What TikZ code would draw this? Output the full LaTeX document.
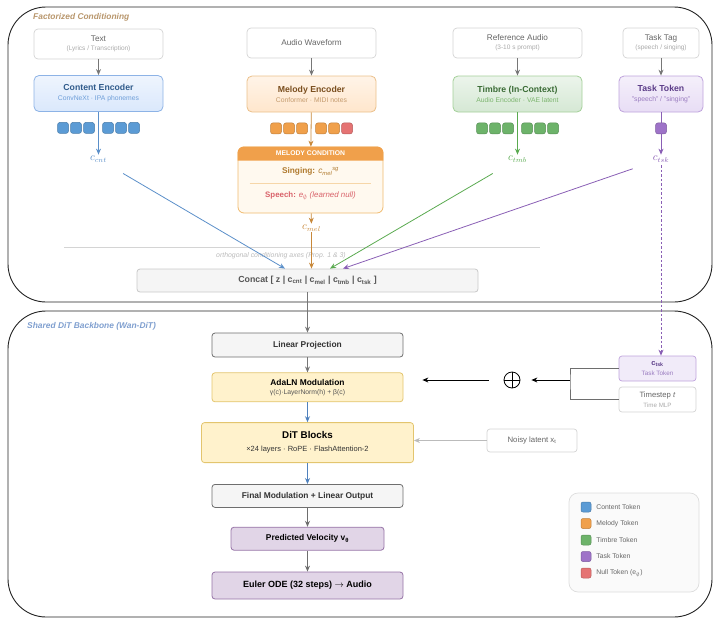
\documentclass[tikz,border=0pt]{standalone}
\usepackage{fontspec}
\usepackage{amsmath,amssymb}
\setmainfont{Liberation Sans}
\usetikzlibrary{arrows.meta,positioning,calc}
\definecolor{panelLine}{HTML}{222222}
\definecolor{inLine}{HTML}{D4D4D4}
\definecolor{inText}{HTML}{666666}
\definecolor{inSub}{HTML}{AAAAAA}
\definecolor{cntFill}{HTML}{DAE8FC}
\definecolor{cntDraw}{HTML}{8DB3E6}
\definecolor{cntTitle}{HTML}{2F5A8A}
\definecolor{cntSub}{HTML}{6F9FD8}
\definecolor{cntTok}{HTML}{5B9BD5}
\definecolor{cntArr}{HTML}{5B8FC9}
\definecolor{melFill}{HTML}{FFE6CC}
\definecolor{melDraw}{HTML}{EBC08A}
\definecolor{melTitle}{HTML}{7A4E1E}
\definecolor{melSub}{HTML}{C49A6C}
\definecolor{melTok}{HTML}{F0A04B}
\definecolor{melArr}{HTML}{C8883A}
\definecolor{nullTok}{HTML}{E57373}
\definecolor{tmbFill}{HTML}{D5E8D4}
\definecolor{tmbDraw}{HTML}{A3D098}
\definecolor{tmbTitle}{HTML}{3A6B35}
\definecolor{tmbSub}{HTML}{7DB56F}
\definecolor{tmbTok}{HTML}{6DB36A}
\definecolor{tmbArr}{HTML}{5AAA50}
\definecolor{tskFill}{HTML}{E8DDF5}
\definecolor{tskDraw}{HTML}{BFA3DC}
\definecolor{tskTitle}{HTML}{5B3C88}
\definecolor{tskSub}{HTML}{9A7CC0}
\definecolor{tskTok}{HTML}{9E73C8}
\definecolor{tskArr}{HTML}{8A5FB5}
\definecolor{condHead}{HTML}{F0A04B}
\definecolor{condFill}{HTML}{FFF9EF}
\definecolor{condDraw}{HTML}{F0BA6E}
\definecolor{singText}{HTML}{B07A2E}
\definecolor{speechText}{HTML}{D9626A}
\definecolor{boxGray}{HTML}{F5F5F5}
\definecolor{concatLine}{HTML}{C8C8C8}
\definecolor{concatText}{HTML}{555555}
\definecolor{procLine}{HTML}{6E6E6E}
\definecolor{procText}{HTML}{333333}
\definecolor{adaFill}{HTML}{FFF2CC}
\definecolor{adaDraw}{HTML}{E3C56E}
\definecolor{velFill}{HTML}{E1D5E7}
\definecolor{velDraw}{HTML}{9673A6}
\definecolor{arrGray}{HTML}{777777}
\definecolor{arrBlue}{HTML}{4F81BD}
\definecolor{condTitle}{HTML}{B8966C}
\definecolor{backTitle}{HTML}{7F9FCF}
\definecolor{noteGray}{HTML}{BBBBBB}
\definecolor{legFill}{HTML}{FAFAFA}
\definecolor{legLine}{HTML}{DDDDDD}
\tikzset{
  panel/.style={draw=panelLine, line width=0.9pt, rounded corners=38pt, minimum width=704pt},
  paneltitle/.style={anchor=west, inner sep=0pt, font=\fontsize{8.4}{10}\selectfont\bfseries\itshape},
  inbox/.style={rectangle, rounded corners=4pt, draw=inLine, fill=white, line width=0.7pt,
                minimum width=129pt, minimum height=30pt, align=center, text=inText,
                font=\fontsize{8.2}{10}\selectfont},
  encbox/.style={rectangle, rounded corners=5pt, line width=0.8pt, minimum width=129pt,
                 minimum height=36pt, align=center, font=\fontsize{8.7}{11}\selectfont\bfseries},
  tok/.style={rectangle, rounded corners=2.5pt, minimum size=11pt, inner sep=0pt, line width=0.5pt},
  clabel/.style={inner sep=1pt, font=\fontsize{10.5}{12}\selectfont},
  colarrow/.style={-{Stealth[length=6pt,width=5pt]}, line width=0.8pt},
  garrow/.style={-{Stealth[length=6pt,width=5pt]}, line width=0.9pt, draw=arrGray},
  procbox/.style={rectangle, rounded corners=3pt, draw=procLine, fill=boxGray, line width=0.8pt,
                  minimum width=191pt, minimum height=24pt, align=center, text=procText,
                  font=\fontsize{8.4}{10}\selectfont\bfseries},
  adabox/.style={procbox, draw=adaDraw, fill=adaFill, text=black},
  velbox/.style={procbox, draw=velDraw, fill=velFill, text=black},
  sidebox/.style={rectangle, rounded corners=3pt, draw=inLine, fill=white, line width=0.7pt,
                  minimum width=77pt, minimum height=25pt, align=center},
  legsq/.style={rectangle, rounded corners=2pt, minimum size=10pt, inner sep=0pt, line width=0.5pt},
  leglab/.style={anchor=west, inner sep=0pt, text=inText, font=\fontsize{6.8}{8}\selectfont}
}

\begin{document}
\begin{tikzpicture}[x=1pt, y=-1pt]
\useasboundingbox (0,0) rectangle (721,622);

% the two panels
\node[panel, minimum height=295pt] (condpanel) at (360,154.5) {};
\node[panel, minimum height=306pt] (backpanel) at (360,464) {};
\node[paneltitle, text=condTitle] (condtitle) at (33,17) {Factorized Conditioning};
\node[paneltitle, text=backTitle] (backtitle) at (27,326) {Shared DiT Backbone (Wan-DiT)};

% inputs
\node[inbox] (text) at (98.5,44) {Text\\[-1pt]{\fontsize{6.5}{8}\selectfont\color{inSub}(Lyrics / Transcription)}};
\node[inbox] (wave) at (311.5,43) {Audio Waveform};
\node[inbox] (refaud) at (517.5,43) {Reference Audio\\[-1pt]{\fontsize{6.5}{8}\selectfont\color{inSub}(3-10 s prompt)}};
\node[inbox, minimum width=76pt] (tasktag) at (661,43) {Task Tag\\[-1pt]{\fontsize{6.5}{8}\selectfont\color{inSub}(speech / singing)}};

% encoders
\node[encbox, draw=cntDraw, top color=cntFill!45!white, bottom color=cntFill, text=cntTitle] (cntenc) at (98.5,93.5)
  {Content Encoder\\[-1pt]{\fontsize{6.8}{8}\selectfont\mdseries\color{cntSub}ConvNeXt · IPA phonemes}};
\node[encbox, draw=melDraw, top color=melFill!45!white, bottom color=melFill, text=melTitle] (melenc) at (311.5,94)
  {Melody Encoder\\[-1pt]{\fontsize{6.8}{8}\selectfont\mdseries\color{melSub}Conformer · MIDI notes}};
\node[encbox, draw=tmbDraw, top color=tmbFill!45!white, bottom color=tmbFill, text=tmbTitle] (tmbenc) at (517.5,94)
  {Timbre (In-Context)\\[-1pt]{\fontsize{6.8}{8}\selectfont\mdseries\color{tmbSub}Audio Encoder · VAE latent}};
\node[encbox, minimum width=84pt, draw=tskDraw, top color=tskFill!45!white, bottom color=tskFill, text=tskTitle] (tskenc) at (661,94)
  {Task Token\\[-1pt]{\fontsize{6.8}{8}\selectfont\mdseries\color{tskSub}"speech" / "singing"}};

\draw[garrow] (text) -- (cntenc);
\draw[garrow] (wave) -- (melenc);
\draw[garrow] (refaud) -- (tmbenc);
\draw[garrow] (tasktag) -- (tskenc);

% condition labels
\node[clabel, text=cntArr] (ccnt) at (98.5,159) {$c_{cnt}$};
\node[clabel, text=tmbArr] (ctmb) at (517.5,159) {$c_{tmb}$};
\node[clabel, text=tskArr] (ctsk) at (661,159) {$c_{tsk}$};
\node[clabel, text=melArr] (cmel) at (311.5,228) {$c_{mel}$};

% melody condition
\node[rectangle, rounded corners=6pt, draw=condDraw, fill=condFill, line width=0.8pt,
      minimum width=145pt, minimum height=66pt] (melcond) at (310.5,180) {};
\fill[condHead] ([yshift=-14pt]melcond.north west) [rounded corners=6pt] -- (melcond.north west)
  -- (melcond.north east) [sharp corners] -- ([yshift=-14pt]melcond.north east) -- cycle;
\node[text=white, font=\fontsize{6.8}{8}\selectfont\bfseries] (mchead) at ([yshift=-7pt]melcond.north) {MELODY CONDITION};
\node[text=singText, font=\fontsize{8.3}{10}\selectfont\bfseries] (msing) at ([yshift=-25pt]melcond.north)
  {Singing: {\mdseries\itshape c}\textsubscript{\mdseries\itshape mel}\textsuperscript{\mdseries\itshape sg}};
\draw[condDraw!60, line width=0.6pt] ([xshift=12pt,yshift=-37pt]melcond.north west) -- ([xshift=-12pt,yshift=-37pt]melcond.north east);
\node[text=speechText, font=\fontsize{7.9}{9}\selectfont] (mspeech) at ([yshift=-49pt]melcond.north)
  {\textbf{Speech:} \textit{e}\textsubscript{$\emptyset$} \textit{(learned null)}};

% encoder to label arrows
\draw[colarrow, draw=cntArr] (cntenc) -- (ccnt);
\draw[colarrow, draw=melArr] (melenc) -- (melcond);
\draw[colarrow, draw=melArr] (melcond) -- (cmel);
\draw[colarrow, draw=tmbArr] (tmbenc) -- (ctmb);
\draw[colarrow, draw=tskArr] (tskenc) -- (ctsk);

% tokens
\foreach \dx [count=\i] in {-35.5,-22.5,-9.5,9.5,22.5,35.5}{
  \node[tok, fill=cntTok, draw=cntTok!80!black] (cnttok\i) at ($(cntenc.south)+(\dx,16)$) {};
  \node[tok, fill=tmbTok, draw=tmbTok!80!black] (tmbtok\i) at ($(tmbenc.south)+(\dx,16)$) {};
}
\foreach \dx/\col [count=\i] in {-35.5/melTok,-22.5/melTok,-9.5/melTok,9.5/melTok,22.5/melTok,35.5/nullTok}{
  \node[tok, fill=\col, draw=\col!80!black] (meltok\i) at ($(melenc.south)+(\dx,16)$) {};
}
\node[tok, fill=tskTok, draw=tskTok!80!black] (tsktok) at ($(tskenc.south)+(0,16)$) {};

% axes note
\draw[inLine, line width=0.7pt] (64,247) -- (540,247);
\node[text=noteGray, font=\fontsize{6.9}{8}\selectfont\itshape] (axesnote) at (281,256) {orthogonal conditioning axes (Prop. 1 \& 3)};

% concat
\node[rectangle, rounded corners=3pt, draw=concatLine, fill=boxGray, line width=0.8pt, minimum width=341pt,
      minimum height=23pt, text=concatText, font=\fontsize{8.8}{10}\selectfont\bfseries] (concat) at (307.5,280.5)
  {Concat [ z | c\textsubscript{cnt} | c\textsubscript{mel} | c\textsubscript{tmb} | c\textsubscript{tsk} ]};

\draw[colarrow, draw=cntArr, shorten <=20pt] (ccnt) -- ([xshift=-22.5pt]concat.north);
\draw[colarrow, draw=melArr] (cmel) -- (cmel |- concat.north);
\draw[colarrow, draw=tmbArr, shorten <=20pt] (ctmb) -- ([xshift=22.5pt]concat.north);
\draw[colarrow, draw=tskArr, shorten <=20pt] (ctsk) -- ([xshift=35.5pt]concat.north);

% backbone
\node[procbox] (linproj) at (307.5,345) {Linear Projection};
\node[adabox, minimum height=29pt, below=15pt of linproj] (adaln)
  {AdaLN Modulation\\[-1pt]{\fontsize{6.8}{8}\selectfont\mdseries\color{concatText}γ(c)·LayerNorm(h) + β(c)}};
\node[adabox, minimum width=212pt, minimum height=40pt, below=20pt of adaln, font=\fontsize{9.8}{12}\selectfont\bfseries] (dit)
  {DiT Blocks\\[1pt]{\fontsize{7.5}{9}\selectfont\mdseries\color{procText}×24 layers · RoPE · FlashAttention-2}};
\node[procbox, minimum height=23pt, below=21pt of dit] (finalout) {Final Modulation + Linear Output};
\node[velbox, minimum width=153pt, minimum height=23pt, below=19pt of finalout] (velocity) {Predicted Velocity v\textsubscript{θ}};
\node[velbox, minimum height=27pt, below=21pt of velocity, font=\fontsize{9}{11}\selectfont\bfseries] (euler) {Euler ODE (32 steps) $\rightarrow$ Audio};

\draw[garrow] (concat) -- (linproj);
\draw[garrow] (linproj) -- (adaln);
\draw[garrow, draw=arrBlue] (adaln) -- (dit);
\draw[garrow, draw=arrBlue] (dit) -- (finalout);
\draw[garrow, draw=procLine] (finalout) -- (velocity);
\draw[garrow, draw=procLine] (velocity) -- (euler);

% conditioning side
\node[sidebox, draw=tskDraw, fill=tskFill!60!white] (tskbox) at (657.5,368.5)
  {{\fontsize{7.5}{9}\selectfont\bfseries\color{tskTitle}c\textsubscript{tsk}}\\[-2pt]{\fontsize{6.3}{7}\selectfont\color{tskSub}Task Token}};
\node[sidebox] (tstep) at (657.5,399.5)
  {{\fontsize{7.7}{9}\selectfont\color{inText}Timestep \textit{t}}\\[-2pt]{\fontsize{6.2}{7}\selectfont\color{inSub}Time MLP}};
\coordinate (join) at (570,380);
\node[circle, draw, line width=0.8pt, minimum size=16pt, inner sep=0pt,
      path picture={\draw[line width=0.8pt] (path picture bounding box.north) -- (path picture bounding box.south)
                    (path picture bounding box.west) -- (path picture bounding box.east);}] (oplus) at (512,380) {};
\draw[line width=0.9pt, draw=procLine] (tskbox.west) -| (join) |- (tstep.west);
\draw[-{Stealth[length=6pt,width=5pt]}, line width=0.9pt, shorten >=11pt] (join) -- (oplus.east);
\draw[-{Stealth[length=6pt,width=5pt]}, line width=0.9pt, shorten <=15pt, shorten >=19pt] (oplus.west) -- (oplus.west -| adaln.east);
\draw[colarrow, draw=tskArr, line width=0.8pt, dash pattern=on 2.5pt off 2pt, shorten <=2pt] (ctsk) -- (ctsk |- tskbox.north);

\node[sidebox, minimum width=90pt, minimum height=23pt, text=inText, font=\fontsize{7.8}{9}\selectfont] (noisy) at (532,440.5)
  {Noisy latent x\textsubscript{t}};
\draw[garrow, draw=noteGray] (noisy) -- (noisy -| dit.east);

% legend
\node[rectangle, rounded corners=9pt, draw=legLine, fill=legFill, line width=0.7pt,
      minimum width=130pt, minimum height=99pt] (legend) at (634,542.5) {};
\foreach \col/\lab [count=\i] in {cntTok/Content Token, melTok/Melody Token, tmbTok/Timbre Token,
                                  tskTok/Task Token, nullTok/{Null Token (e\textsubscript{$\emptyset$})}}{
  \node[legsq, fill=\col, draw=\col!80!black] (leg\i) at (586,490.5+16.5*\i) {};
  \node[leglab, right=5pt of leg\i] (leglab\i) {\lab};
}
\end{tikzpicture}
\end{document}
